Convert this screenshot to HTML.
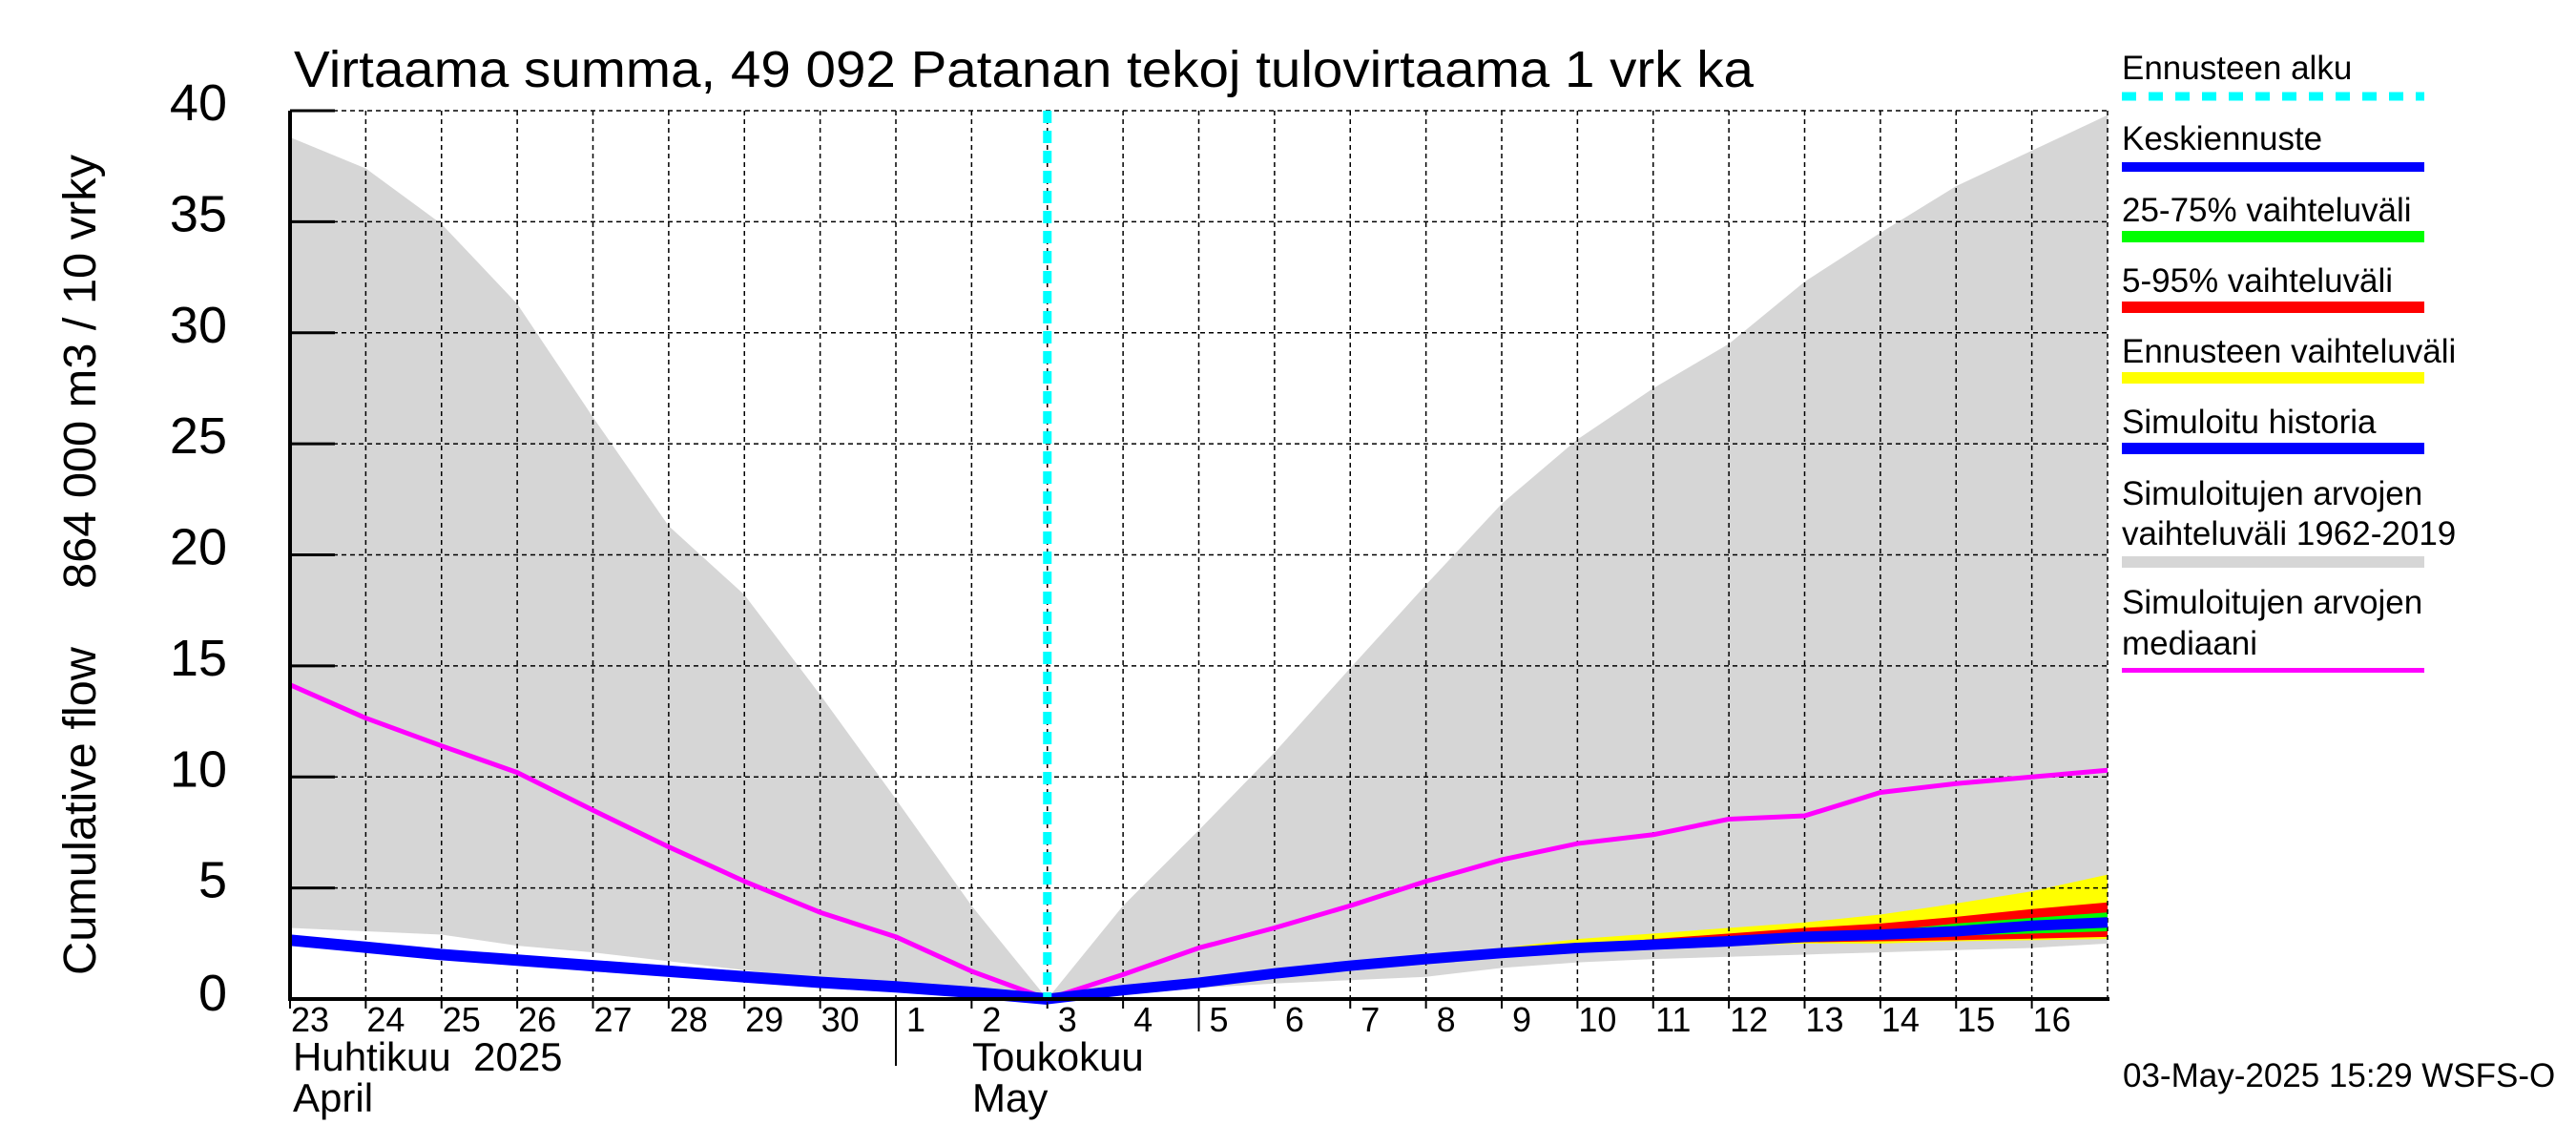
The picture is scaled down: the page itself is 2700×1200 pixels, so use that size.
<!DOCTYPE html>
<html><head><meta charset="utf-8"><style>
html,body{margin:0;padding:0;background:#fff}
svg{display:block;font-family:"Liberation Sans",sans-serif}
text{white-space:pre}
</style></head><body>
<svg id="chart" width="2700" height="1200" viewBox="0 0 2700 1200">
<rect width="2700" height="1200" fill="#fff"/>
<text x="308" y="91" font-size="54" textLength="1530" lengthAdjust="spacingAndGlyphs">Virtaama summa, 49 092 Patanan tekoj tulovirtaama 1 vrk ka</text>
<g id="plot"></g>
<text transform="translate(100,1022) rotate(-90)" font-size="48" textLength="344" lengthAdjust="spacingAndGlyphs">Cumulative flow</text>
<text transform="translate(100,617) rotate(-90)" font-size="48" textLength="455" lengthAdjust="spacingAndGlyphs">864 000 m3 / 10 vrky</text>
<g id="legend">
<text x="2224" y="83" font-size="35">Ennusteen alku</text>
<line x1="2224" y1="101" x2="2541" y2="101" stroke="#00ffff" stroke-width="9" stroke-dasharray="15 13"/>
<text x="2224" y="157" font-size="35">Keskiennuste</text>
<rect x="2224" y="170" width="317" height="10" fill="#0000ff"/>
<text x="2224" y="232" font-size="35">25-75% vaihteluväli</text>
<rect x="2224" y="242" width="317" height="12" fill="#00ff00"/>
<text x="2224" y="306" font-size="35">5-95% vaihteluväli</text>
<rect x="2224" y="316" width="317" height="12" fill="#ff0000"/>
<text x="2224" y="380" font-size="35">Ennusteen vaihteluväli</text>
<rect x="2224" y="390" width="317" height="12" fill="#ffff00"/>
<text x="2224" y="454" font-size="35">Simuloitu historia</text>
<rect x="2224" y="464" width="317" height="12" fill="#0000ff"/>
<text x="2224" y="529" font-size="35">Simuloitujen arvojen</text>
<text x="2224" y="571" font-size="35">vaihteluväli 1962-2019</text>
<rect x="2224" y="583" width="317" height="12" fill="#d6d6d6"/>
<text x="2224" y="643" font-size="35">Simuloitujen arvojen</text>
<text x="2224" y="686" font-size="35">mediaani</text>
<rect x="2224" y="700" width="317" height="5" fill="#ff00ff"/>
</g>
<text x="2225" y="1139" font-size="35">03-May-2025 15:29 WSFS-O</text>
</svg>
<script>
const dayLabels = ["23","24","25","26","27","28","29","30","1","2","3","4","5","6","7","8","9","10","11","12","13","14","15","16"];
const yTicks = [0,5,10,15,20,25,30,35,40];
const simUpper = [38.8,37.4,34.9,31.3,26.2,21.3,18.2,13.7,9.0,4.2,0,4.2,7.6,11.1,14.9,18.65,22.3,25.2,27.5,29.5,32.3,34.5,36.6,38.2,39.8];
const simLower = [3.2,3.05,2.9,2.4,2.1,1.7,1.3,0.9,0.6,0.3,0,0.15,0.5,0.7,0.85,1.0,1.4,1.65,1.8,1.9,2.0,2.1,2.2,2.3,2.5];
const simMedian = [14.15,12.65,11.4,10.2,8.5,6.85,5.3,3.9,2.8,1.25,0,1.1,2.3,3.2,4.2,5.3,6.27,7.0,7.4,8.1,8.25,9.3,9.7,10.0,10.3];
const history = [2.65,2.33,2.0,1.75,1.5,1.25,1.0,0.75,0.55,0.3,0];
const fcStart = 10;
const fcMean = [0,0.4,0.73,1.15,1.5,1.8,2.07,2.3,2.45,2.6,2.8,2.9,3.05,3.3,3.45];
const fcYellowHi = [0,0.42,0.8,1.22,1.6,1.95,2.3,2.7,2.95,3.2,3.45,3.8,4.3,4.85,5.6];
const fcYellowLo = [0,0.38,0.7,1.05,1.4,1.7,1.95,2.15,2.3,2.4,2.5,2.5,2.6,2.65,2.7];
const fcRedHi = [0,0.41,0.78,1.19,1.55,1.88,2.15,2.4,2.7,2.95,3.2,3.4,3.7,4.05,4.35];
const fcRedLo = [0,0.39,0.72,1.08,1.45,1.75,2.0,2.2,2.35,2.45,2.55,2.6,2.65,2.72,2.8];
const fcGreenHi = [0,0.4,0.75,1.17,1.52,1.83,2.1,2.35,2.5,2.67,2.9,3.05,3.4,3.65,3.9];
const fcGreenLo = [0,0.4,0.72,1.12,1.48,1.77,2.04,2.25,2.4,2.55,2.7,2.75,2.85,2.95,3.05];

const NS = "http://www.w3.org/2000/svg";
const L = 304, R = 2209, T = 116, B = 1047, NDAYS = 24;
const X = i => L + i * (R - L) / NDAYS;
const Y = v => B - v * (B - T) / 40;
const plot = document.getElementById('plot');
function mk(tag, attrs) {
  const e = document.createElementNS(NS, tag);
  for (const k in attrs) e.setAttribute(k, attrs[k]);
  plot.appendChild(e);
  return e;
}
function band(hi, lo, off, fill, name) {
  let pts = hi.map((v, i) => X(i + off) + ',' + Y(v));
  for (let i = lo.length - 1; i >= 0; i--) pts.push(X(i + off) + ',' + Y(lo[i]));
  const p = mk('polygon', {points: pts.join(' '), fill: fill});
  
  
}
function line(vals, off, color, w, name) {
  const p = mk('polyline', {points: vals.map((v, i) => X(i + off) + ',' + Y(v)).join(' '), fill: 'none', stroke: color, 'stroke-width': w, 'stroke-linejoin': 'round'});
  
  
}
band(simUpper, simLower, 0, '#d6d6d6', 'simulated-range-band');
band(fcYellowHi, fcYellowLo, fcStart, '#ffff00', 'forecast-range-band');
band(fcRedHi, fcRedLo, fcStart, '#ff0000', 'band-5-95');
band(fcGreenHi, fcGreenLo, fcStart, '#00ff00', 'band-25-75');
yTicks.forEach(v => {
  const g = mk('line', {x1: L, y1: Y(v), x2: R, y2: Y(v), stroke: '#000', 'stroke-width': 1.5, 'stroke-dasharray': '5 4'});
  
  
  const t = mk('line', {x1: L, y1: Y(v), x2: L + 47, y2: Y(v), stroke: '#000', 'stroke-width': 3});
  
  
  const lb = mk('text', {x: 238, y: Y(v) + 10 + (v === 0 ? 2 : 0), 'font-size': 54, 'text-anchor': 'end'});
  lb.textContent = v;
  
  
});
dayLabels.forEach((d, i) => {
  const g = mk('line', {x1: X(i), y1: T, x2: X(i), y2: B, stroke: '#000', 'stroke-width': 1.5, 'stroke-dasharray': '5 4'});
  
  
  const tk = mk('line', {x1: X(i), y1: B, x2: X(i), y2: d === '1' ? 1117 : (d === '5' ? 1081 : 1057), stroke: '#000', 'stroke-width': 2});
  
  
  const lb = mk('text', {x: X(i) + 21, y: 1081, 'font-size': 36, 'text-anchor': 'middle'});
  lb.textContent = d;
  
  
});
const rg = mk('line', {x1: R, y1: T, x2: R, y2: B, stroke: '#000', 'stroke-width': 1.5, 'stroke-dasharray': '5 4'});


line(simMedian, 0, '#ff00ff', 5, 'simulated-median-line');
line(history, 0, '#0000ff', 12, 'simulated-history-line');
line(fcMean, fcStart, '#0000ff', 11, 'mean-forecast-line');
const cy = mk('line', {x1: X(fcStart), y1: T, x2: X(fcStart), y2: B, stroke: '#00ffff', 'stroke-width': 9, 'stroke-dasharray': '13 8'});


const ax1 = mk('line', {x1: L, y1: T, x2: L, y2: B + 2, stroke: '#000', 'stroke-width': 4});


const ax2 = mk('line', {x1: L, y1: B, x2: R + 2, y2: B, stroke: '#000', 'stroke-width': 4});


const m1 = mk('text', {x: 307, y: 1122, 'font-size': 42});
m1.textContent = 'Huhtikuu  2025';


const m2 = mk('text', {x: 307, y: 1165, 'font-size': 42});
m2.textContent = 'April';


const m3 = mk('text', {x: 1019, y: 1122, 'font-size': 42});
m3.textContent = 'Toukokuu';


const m4 = mk('text', {x: 1019, y: 1165, 'font-size': 42});
m4.textContent = 'May';


</script>
</body></html>
